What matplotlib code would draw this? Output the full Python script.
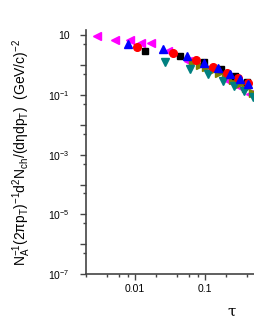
import matplotlib
matplotlib.use('Agg')
import matplotlib.pyplot as plt
from matplotlib.ticker import LogLocator, FixedLocator, NullFormatter

plt.rcParams['font.family'] = ['Liberation Sans', 'DejaVu Sans']
plt.rcParams['mathtext.fontset'] = 'custom'
plt.rcParams['mathtext.rm'] = 'Liberation Sans'
plt.rcParams['mathtext.it'] = 'Liberation Sans:italic'
plt.rcParams['mathtext.sf'] = 'Liberation Sans'

# magenta left triangles
tau_mag = [0.00289, 0.00513, 0.0085, 0.0122, 0.0169, 0.0293, 0.0577, 0.1057, 0.204, 0.30, 0.44]
val_mag = [9.5, 6.95, 6.95, 5.4, 5.4, 3.04, 1.34, 0.72, 0.316, 0.20, 0.11]
# blue up triangles
tau_blue = [0.0079, 0.0251, 0.0548, 0.0968, 0.155, 0.228, 0.316, 0.416]
val_blue = [5.1, 3.39, 2.02, 1.2, 0.78, 0.50, 0.333, 0.232]
# red circles
tau_red = [0.0107, 0.0346, 0.0736, 0.131, 0.204, 0.30, 0.416]
val_red = [3.96, 2.49, 1.48, 0.88, 0.556, 0.36, 0.257]
# black squares
tau_blk = [0.0139, 0.044, 0.0968, 0.171, 0.268, 0.394]
val_blk = [3.04, 2.02, 1.27, 0.72, 0.43, 0.27]
# teal down triangles
tau_teal = [0.0266, 0.0604, 0.109, 0.179, 0.26, 0.36, 0.48]
val_teal = [1.24, 0.74, 0.49, 0.30, 0.20, 0.132, 0.087]
# olive right triangles
tau_oli = [0.068, 0.084, 0.105, 0.13, 0.16, 0.2, 0.25, 0.31, 0.39, 0.48]
val_oli = [1.3, 1.05, 0.85, 0.68, 0.54, 0.42, 0.32, 0.24, 0.17, 0.12]

fig = plt.figure(figsize=(2.55, 3.3), dpi=100)
ax = fig.add_axes([86 / 255, 1 - 274 / 330, 1 - 86 / 255, 244 / 330])

ms = 5.5
ax.plot(tau_mag, val_mag, '<', color='#ff00ff', ms=ms, ls='none')
ax.plot(tau_oli, val_oli, '>', color='#808000', ms=ms, ls='none')
ax.plot(tau_teal, val_teal, 'v', color='#008080', ms=ms, ls='none')
ax.plot(tau_blk, val_blk, 's', color='black', ms=ms - 0.5, ls='none')
ax.plot(tau_red, val_red, 'o', color='red', ms=ms, ls='none')
ax.plot(tau_blue, val_blue, '^', color='blue', ms=ms, ls='none')

ax.set_xscale('log')
ax.set_yscale('log')
ax.set_xlim(0.002, 0.518)
ax.set_ylim(1e-7, 15.1)

for s in ['top', 'right']:
    ax.spines[s].set_visible(False)
for s in ['left', 'bottom']:
    ax.spines[s].set_color('#444444')
    ax.spines[s].set_linewidth(1.2)

ax.yaxis.set_major_locator(FixedLocator([10.0 ** k for k in range(-7, 2)]))
ax.yaxis.set_minor_locator(FixedLocator([5 * 10.0 ** k for k in range(-8, 1)]))
ylabels = {1: '10', -1: '$10^{-1}$', -3: '$10^{-3}$', -5: '$10^{-5}$', -7: '$10^{-7}$'}
ax.set_yticklabels([ylabels.get(k, '') for k in range(-7, 2)])
ax.yaxis.set_minor_formatter(NullFormatter())

ax.xaxis.set_major_locator(FixedLocator([0.01, 0.1]))
ax.xaxis.set_minor_locator(LogLocator(base=10, subs=[2, 4, 6, 8], numticks=20))
ax.set_xticklabels(['0.01', '0.1'])
ax.xaxis.set_minor_formatter(NullFormatter())

ax.tick_params(which='major', direction='out', length=4, width=1, color='#444444',
               labelsize=7.5, pad=3)
ax.tick_params(which='minor', direction='out', length=2.5, width=1, color='#444444')
ax.tick_params(axis='y', which='major', pad=8)

fig.text(232 / 255, 1 - 312 / 330, 'τ', fontsize=11, ha='center', va='center',
         family=['DejaVu Serif'])
fig.text(22 / 255, 1 - 152 / 330,
         r'$\mathrm{N_A^{-1}(2\pi p_T)^{-1}d^2N_{ch}/(d\eta dp_T)}$  (GeV/c)$^{-2}$',
         fontsize=10, rotation=90, ha='center', va='center')

fig.savefig('out.png', dpi=100)
